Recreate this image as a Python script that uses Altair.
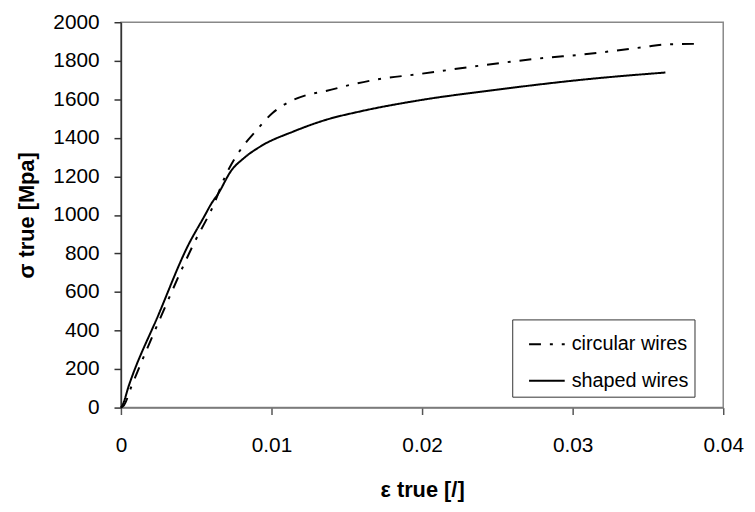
import altair as alt
import pandas as pd

# shaped wires (solid)
shaped_eps = [0.0, 0.0001, 0.00053, 0.0025, 0.00447, 0.00557, 0.0060, 0.00645, 0.00732,
              0.0082, 0.0093, 0.01149, 0.01368, 0.01588, 0.0196, 0.02487, 0.03145, 0.03616]
shaped_sig = [0, 12, 115, 483, 843, 997, 1058, 1109, 1229,
              1297, 1357, 1434, 1495, 1537, 1592, 1649, 1708, 1739]

# circular wires (dash-dot)
circ_eps = [0.0, 0.0002, 0.0007, 0.0027, 0.0048, 0.0062, 0.00689, 0.0082, 0.00886,
            0.01007, 0.01084, 0.01237, 0.01368, 0.01522, 0.01741, 0.0196, 0.02377,
            0.02816, 0.03057, 0.03474, 0.03616, 0.03847]
circ_sig = [0, 12, 110, 480, 845, 1060, 1194, 1366, 1426,
            1529, 1572, 1623, 1644, 1675, 1708, 1729, 1774,
            1815, 1832, 1871, 1885, 1888]

series_names = ["circular wires", "shaped wires"]
x_ticks = [0, 0.01, 0.02, 0.03, 0.04]
y_ticks = [0, 200, 400, 600, 800, 1000, 1200, 1400, 1600, 1800, 2000]

rows = []
for i, (e, s) in enumerate(zip(circ_eps, circ_sig)):
    rows.append({"eps": e, "sig": s, "series": series_names[0], "idx": i})
for i, (e, s) in enumerate(zip(shaped_eps, shaped_sig)):
    rows.append({"eps": e, "sig": s, "series": series_names[1], "idx": i})
df = pd.DataFrame(rows)

FONT = "Liberation Sans"

chart = alt.Chart(df).mark_line(color="black", strokeWidth=2, interpolate="monotone").encode(
    x=alt.X("eps:Q", scale=alt.Scale(domain=[0, 0.04], nice=False, zero=True),
            axis=alt.Axis(title="ε true [/]", values=x_ticks, format="~g",
                          grid=False, tickSize=7, labelPadding=20, titlePadding=25,
                          labelFlush=False,
                          domainColor="#777777", tickColor="#555555")),
    y=alt.Y("sig:Q", scale=alt.Scale(domain=[0, 2000], nice=False),
            axis=alt.Axis(title="σ true [Mpa]", values=y_ticks, format="d",
                          grid=False, tickSize=7, labelPadding=15, titlePadding=15,
                          labelFlush=False,
                          domainColor="#333333", tickColor="#333333")),
    strokeDash=alt.StrokeDash(
        "series:N",
        scale=alt.Scale(domain=series_names, range=[[12, 9, 3, 9], [1, 0]]),
        legend=alt.Legend(title=None, orient="none", legendX=395, legendY=300,
                          symbolType="stroke", symbolSize=1296, symbolStrokeWidth=2,
                          symbolStrokeColor="black", symbolOffset=10,
                          labelFontSize=20, labelFont=FONT, labelColor="black",
                          labelOffset=6, rowPadding=8, padding=6,
                          strokeColor="#333333", fillColor="white"),
    ),
    order="idx:Q",
).properties(
    width=608, height=389,
    autosize=alt.AutoSizeParams(type="none"),
    padding={"left": 114, "top": 12, "right": 24, "bottom": 100},
).configure_view(
    stroke="#888888", strokeWidth=1.5
).configure_axis(
    labelFont=FONT, labelFontSize=21, labelColor="black",
    titleFont=FONT, titleFontSize=22, titleFontWeight="bold", titleColor="black",
    domainWidth=1.5, tickWidth=1.5,
)

chart.save("out.html", embed_options={"renderer": "svg", "actions": False})
